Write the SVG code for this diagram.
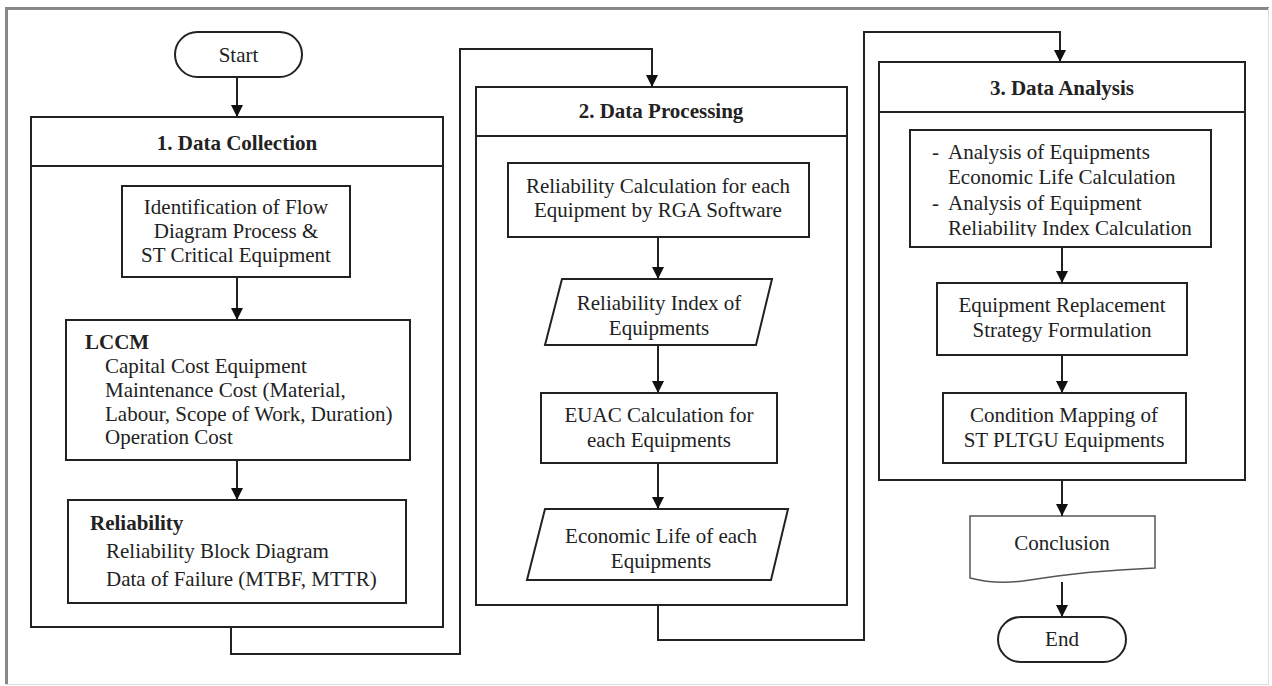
<svg xmlns="http://www.w3.org/2000/svg" width="1272" height="686" viewBox="0 0 1272 686">
<style>
.box{fill:#fff;stroke:#222;stroke-width:2}
.doc{fill:#fff;stroke:#555;stroke-width:1.5}
.con{fill:none;stroke:#222;stroke-width:2}
text{font-family:"Liberation Serif","Times New Roman",serif;font-size:21px;fill:#222}
.c{text-anchor:middle}
.b{font-weight:bold}
</style>
<defs>
<marker id="ah" viewBox="0 0 12 12" markerWidth="12" markerHeight="12" refX="12" refY="6" orient="auto" markerUnits="userSpaceOnUse">
<path d="M0,0 L12,6 L0,12 z" fill="#111"/>
</marker>
</defs>
<rect x="0" y="0" width="1272" height="686" fill="#fff"/>
<g id="frame">
<line x1="6.5" y1="7" x2="6.5" y2="684" stroke="#888" stroke-width="3"/>
<line x1="5" y1="8.5" x2="1269" y2="8.5" stroke="#888" stroke-width="3"/>
<line x1="1268.5" y1="8" x2="1268.5" y2="684" stroke="#ddd" stroke-width="1"/>
<line x1="6" y1="684.5" x2="1269" y2="684.5" stroke="#ddd" stroke-width="1"/>
</g>
<g id="start">
<rect class="box" x="175" y="32" width="127" height="45" rx="22.5"/>
<text class="c" x="238.5" y="62">Start</text>
</g>
<g id="data-collection">
<rect class="box" x="31" y="117" width="412" height="510"/>
<line class="con" x1="31" y1="166" x2="443" y2="166"/>
<text class="c b" x="237" y="150">1. Data Collection</text>
</g>
<g id="identification">
<rect class="box" x="122" y="186" width="228" height="91"/>
<text class="c" x="236" y="214">Identification of Flow</text>
<text class="c" x="236" y="238">Diagram Process &amp;</text>
<text class="c" x="236" y="262">ST Critical Equipment</text>
</g>
<g id="lccm">
<rect class="box" x="66" y="320" width="344" height="140"/>
<text class="b" x="85" y="349">LCCM</text>
<text x="105" y="373">Capital Cost Equipment</text>
<text x="105" y="397">Maintenance Cost (Material,</text>
<text x="105" y="421">Labour, Scope of Work, Duration)</text>
<text x="105" y="444">Operation Cost</text>
</g>
<g id="reliability">
<rect class="box" x="68" y="500" width="338" height="103"/>
<text class="b" x="90" y="530">Reliability</text>
<text x="106" y="558">Reliability Block Diagram</text>
<text x="106" y="586">Data of Failure (MTBF, MTTR)</text>
</g>
<g id="data-processing">
<rect class="box" x="476" y="87" width="371" height="518"/>
<line class="con" x1="476" y1="136" x2="847" y2="136"/>
<text class="c b" x="661" y="118">2. Data Processing</text>
</g>
<g id="reliability-calc">
<rect class="box" x="508" y="163" width="301" height="74"/>
<text class="c" x="658" y="193">Reliability Calculation for each</text>
<text class="c" x="658" y="217">Equipment by RGA Software</text>
</g>
<g id="reliability-index">
<polygon class="box" points="562,279 772,279 756,345 545,345"/>
<text class="c" x="659" y="310">Reliability Index of</text>
<text class="c" x="659" y="335">Equipments</text>
</g>
<g id="euac">
<rect class="box" x="541" y="393" width="236" height="70"/>
<text class="c" x="659" y="422">EUAC Calculation for</text>
<text class="c" x="659" y="447">each Equipments</text>
</g>
<g id="economic-life">
<polygon class="box" points="545,509 788,509 771,580 527,580"/>
<text class="c" x="661" y="543">Economic Life of each</text>
<text class="c" x="661" y="568">Equipments</text>
</g>
<g id="data-analysis">
<rect class="box" x="879" y="62" width="366" height="418"/>
<line class="con" x1="879" y1="112" x2="1245" y2="112"/>
<text class="c b" x="1062" y="95">3. Data Analysis</text>
</g>
<g id="analysis">
<rect x="910" y="130" width="301" height="117" fill="#fff"/>
<svg x="910" y="130" width="302" height="107" overflow="hidden">
<text x="22" y="29">-</text>
<text x="38" y="29">Analysis of Equipments</text>
<text x="38" y="54">Economic Life Calculation</text>
<text x="22" y="80">-</text>
<text x="38" y="80">Analysis of Equipment</text>
<text x="38" y="105">Reliability Index Calculation</text>
</svg>
<rect class="box" x="910" y="130" width="301" height="117" style="fill:none"/>
</g>
<g id="replacement">
<rect class="box" x="937" y="283" width="250" height="72"/>
<text class="c" x="1062" y="312">Equipment Replacement</text>
<text class="c" x="1062" y="337">Strategy Formulation</text>
</g>
<g id="condition-mapping">
<rect class="box" x="943" y="393" width="243" height="70"/>
<text class="c" x="1064" y="422">Condition Mapping of</text>
<text class="c" x="1064" y="447">ST PLTGU Equipments</text>
</g>
<g id="conclusion">
<path class="doc" d="M970,516 H1155 V568 C1110,570 1060,575 1030,580 C1005,584 985,582 970,578 Z"/>
<text class="c" x="1062" y="550">Conclusion</text>
</g>
<g id="end">
<rect class="box" x="998" y="617" width="128" height="45" rx="22.5"/>
<text class="c" x="1062" y="646">End</text>
</g>
<g id="connectors">
<path class="con" d="M237,77 V117" marker-end="url(#ah)"/>
<path class="con" d="M237,277 V320" marker-end="url(#ah)"/>
<path class="con" d="M237,460 V500" marker-end="url(#ah)"/>
<path class="con" d="M231,627 V654 H460 V49 H652 V87" marker-end="url(#ah)"/>
<path class="con" d="M658,237 V279" marker-end="url(#ah)"/>
<path class="con" d="M658,345 V393" marker-end="url(#ah)"/>
<path class="con" d="M658,463 V509" marker-end="url(#ah)"/>
<path class="con" d="M658,605 V640 H864 V32 H1060 V62" marker-end="url(#ah)"/>
<path class="con" d="M1062,247 V283" marker-end="url(#ah)"/>
<path class="con" d="M1062,355 V393" marker-end="url(#ah)"/>
<path class="con" d="M1062,480 V516" marker-end="url(#ah)"/>
<path class="con" d="M1062,582 V617" marker-end="url(#ah)"/>
</g>
</svg>
